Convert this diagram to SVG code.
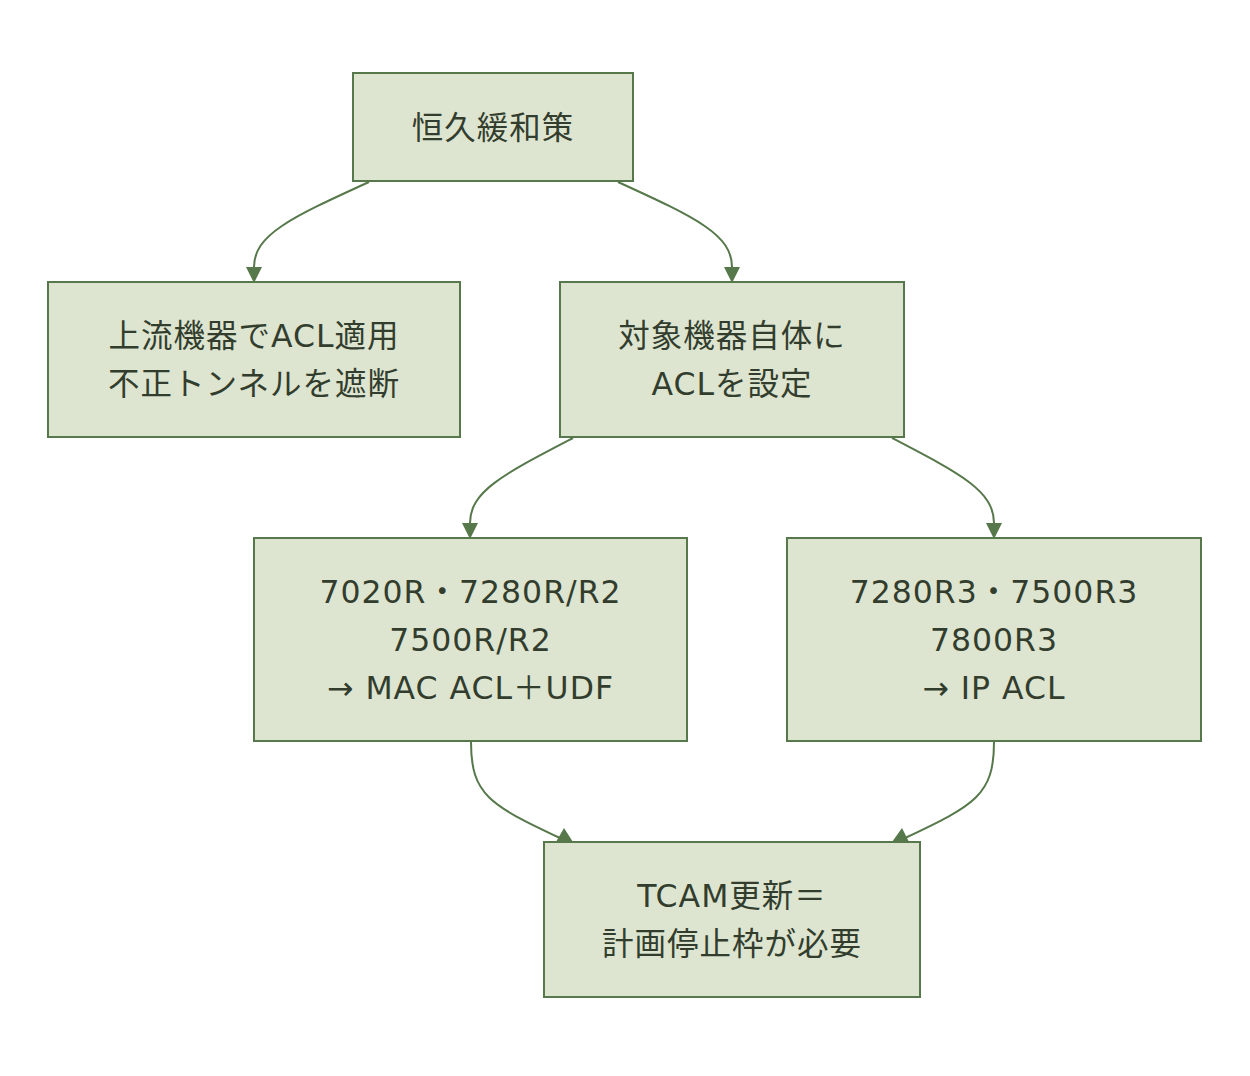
<svg xmlns="http://www.w3.org/2000/svg" width="1250" height="1076" viewBox="0 0 1250 1076">
<style>
.node rect{fill:#dde5d0;stroke:#56784b;stroke-width:2}
.node text{font-family:"DejaVu Sans","Noto Sans CJK JP",sans-serif;font-size:31.5px;letter-spacing:1px;fill:#333d2e;text-anchor:middle;dominant-baseline:central}
.edge{fill:none;stroke:#56784b;stroke-width:2}
.head{fill:#56784b}
</style>
<defs>
<marker id="arr" viewBox="0 0 16 16" markerWidth="16" markerHeight="16" refX="0" refY="8" orient="auto" markerUnits="userSpaceOnUse">
<path d="M0,0 L16,8 L0,16 z" fill="#56784b"/>
</marker>
</defs>
<rect width="1250" height="1076" fill="#ffffff"/>
<g id="connectors">
<path class="edge" d="M369,182 C290,218 254,235 254,267" marker-end="url(#arr)"/>
<path class="edge" d="M618,182 C697,218 732,235 732,267" marker-end="url(#arr)"/>
<path class="edge" d="M573,438 C504,474 470,491 470,523" marker-end="url(#arr)"/>
<path class="edge" d="M892,438 C961,474 994,491 994,523" marker-end="url(#arr)"/>
<path class="edge" d="M471,742 C471,795 490,805 560,838"/>
<path class="edge" d="M994,742 C994,795 975,805 905,838"/>
<polygon class="head" points="556,842 564,828 573,842"/>
<polygon class="head" points="892,842 902,828 909,842"/>
</g>
<g id="n1" class="node"><rect x="353" y="73" width="280" height="108"/><text x="493" y="128">恒久緩和策</text></g>
<g id="n2" class="node"><rect x="48" y="282" width="412" height="155"/><text x="254" y="336">上流機器でACL適用</text><text x="254" y="384">不正トンネルを遮断</text></g>
<g id="n3" class="node"><rect x="560" y="282" width="344" height="155"/><text x="732" y="336">対象機器自体に</text><text x="732" y="384">ACLを設定</text></g>
<g id="n4" class="node"><rect x="254" y="538" width="433" height="203"/><text x="470.5" y="592">7020R・7280R/R2</text><text x="470.5" y="640">7500R/R2</text><text x="470.5" y="688">→ MAC ACL＋UDF</text></g>
<g id="n5" class="node"><rect x="787" y="538" width="414" height="203"/><text x="994" y="592">7280R3・7500R3</text><text x="994" y="640">7800R3</text><text x="994" y="688">→ IP ACL</text></g>
<g id="n6" class="node"><rect x="544" y="842" width="376" height="155"/><text x="732" y="896">TCAM更新＝</text><text x="732" y="944">計画停止枠が必要</text></g>
</svg>
